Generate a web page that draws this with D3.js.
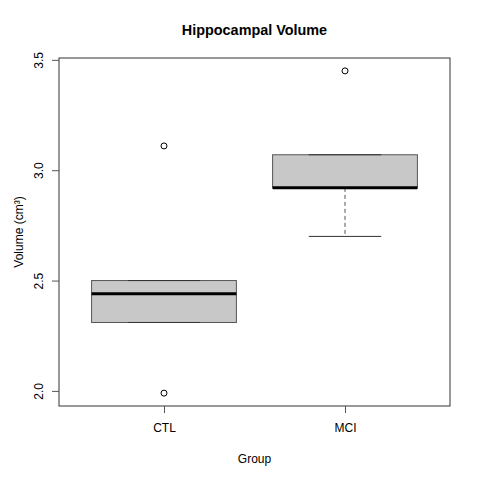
<!DOCTYPE html>
<html>
<head>
<meta charset="utf-8">
<script src="https://cdn.jsdelivr.net/npm/d3@7"></script>
<style>
body{margin:0;background:#fff;}
text{font-family:"Liberation Sans",Arial,Helvetica,sans-serif;fill:#000;}
</style>
</head>
<body>
<svg id="chart" width="480" height="480"></svg>
<script>
const categories = ["CTL", "MCI"];
const lowerWhisker = [2.31, 2.70];
const q1 = [2.31, 2.92];
const median = [2.44, 2.92];
const q3 = [2.50, 3.07];
const upperWhisker = [2.50, 3.07];
const outliers = [[3.11, 1.99], [3.45]];
const yTicks = [2.0, 2.5, 3.0, 3.5];
const title = "Hippocampal Volume";
const xLabel = "Group";
const yLabel = "Volume (cm³)";

const svg = d3.select("#chart");
const mLeft = 59, mRight = 450, mTop = 58, mBottom = 406;

const allVals = lowerWhisker.concat(upperWhisker, outliers.flat());
const yMin = d3.min(allVals), yMax = d3.max(allVals);
const pad = (yMax - yMin) * 0.04;
const y = d3.scaleLinear().domain([yMin - pad, yMax + pad]).range([mBottom, mTop]);
const x = d3.scaleLinear().domain([0.42, categories.length + 0.58]).range([mLeft, mRight]);

const boxW = (x(1) - x(0)) * 0.8;
const stapleW = boxW * 0.5;

categories.forEach((c, i) => {
  const cx = x(i + 1);
  const g = svg.append("g");
  if (lowerWhisker[i] < q1[i]) {
    g.append("line").attr("x1", cx).attr("x2", cx)
      .attr("y1", y(q1[i])).attr("y2", y(lowerWhisker[i]))
      .attr("stroke", "#555").attr("stroke-dasharray", "4,3");
  }
  if (upperWhisker[i] > q3[i]) {
    g.append("line").attr("x1", cx).attr("x2", cx)
      .attr("y1", y(q3[i])).attr("y2", y(upperWhisker[i]))
      .attr("stroke", "#555").attr("stroke-dasharray", "4,3");
  }
  g.append("rect")
    .attr("x", cx - boxW / 2).attr("width", boxW)
    .attr("y", y(q3[i])).attr("height", y(q1[i]) - y(q3[i]))
    .attr("fill", "#c8c8c8").attr("stroke", "#555").attr("stroke-width", 1);
  [lowerWhisker[i], upperWhisker[i]].forEach(v => {
    g.append("line").attr("x1", cx - stapleW / 2).attr("x2", cx + stapleW / 2)
      .attr("y1", y(v)).attr("y2", y(v)).attr("stroke", "#333").attr("stroke-width", 1);
  });
  g.append("line").attr("x1", cx - boxW / 2).attr("x2", cx + boxW / 2)
    .attr("y1", y(median[i])).attr("y2", y(median[i]))
    .attr("stroke", "#000").attr("stroke-width", 3);
  outliers[i].forEach(v => {
    g.append("circle").attr("cx", cx).attr("cy", y(v)).attr("r", 3)
      .attr("fill", "none").attr("stroke", "#000").attr("stroke-width", 1);
  });
});

svg.append("rect").attr("x", mLeft).attr("y", mTop)
  .attr("width", mRight - mLeft).attr("height", mBottom - mTop)
  .attr("fill", "none").attr("stroke", "#333").attr("stroke-width", 1);

const yAxis = d3.axisLeft(y).tickValues(yTicks).tickFormat(d3.format(".1f")).tickSize(7);
const ga = svg.append("g").attr("transform", `translate(${mLeft},0)`).call(yAxis);
ga.select(".domain").remove();
ga.selectAll(".tick line").attr("stroke", "#555");
ga.selectAll(".tick text")
  .attr("font-size", 12).attr("fill", "#000")
  .attr("transform", "rotate(-90)")
  .attr("x", 0).attr("y", -16).attr("dy", 0)
  .attr("text-anchor", "middle");

const xAxis = d3.axisBottom(x).tickValues(categories.map((c, i) => i + 1))
  .tickFormat((d) => categories[d - 1]).tickSize(7).tickPadding(10);
const gx = svg.append("g").attr("transform", `translate(0,${mBottom})`).call(xAxis);
gx.select(".domain").remove();
gx.selectAll(".tick line").attr("stroke", "#555");
gx.selectAll(".tick text").attr("font-size", 12).attr("fill", "#000");

svg.append("text").attr("x", (mLeft + mRight) / 2).attr("y", 35)
  .attr("text-anchor", "middle").attr("font-size", 14.4).attr("font-weight", "bold").text(title);
svg.append("text").attr("x", (mLeft + mRight) / 2).attr("y", 463)
  .attr("text-anchor", "middle").attr("font-size", 12).text(xLabel);
svg.append("text").attr("transform", `translate(23,${(mTop + mBottom) / 2}) rotate(-90)`)
  .attr("text-anchor", "middle").attr("font-size", 12).text(yLabel);
</script>
</body>
</html>
